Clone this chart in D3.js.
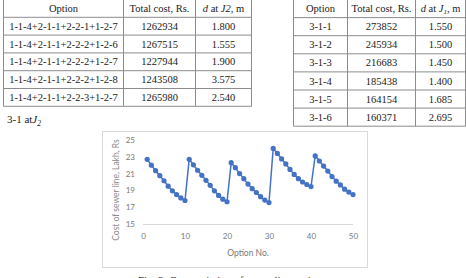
<!DOCTYPE html>
<html><head><meta charset="utf-8">
<script src="https://cdn.jsdelivr.net/npm/d3@7"></script>
<style>body{margin:0;background:#fff;}svg{display:block;}</style>
</head><body>
<svg id="c" width="466" height="278"></svg>
<script>
// ---- data ----
const leftOptions = ["1-1-4+2-1-1+2-2-1+1-2-7","1-1-4+2-1-1+2-2-2+1-2-6","1-1-4+2-1-1+2-2-2+1-2-7","1-1-4+2-1-1+2-2-2+1-2-8","1-1-4+2-1-1+2-2-3+1-2-7"];
const leftCosts = ["1262934","1267515","1227944","1243508","1265980"];
const leftDepths = ["1.800","1.555","1.900","3.575","2.540"];
const rightOptions = ["3-1-1","3-1-2","3-1-3","3-1-4","3-1-5","3-1-6"];
const rightCosts = ["273852","245934","216683","185438","164154","160371"];
const rightDepths = ["1.550","1.500","1.450","1.400","1.685","2.695"];
const optionNo = d3.range(1, 51);
const costLakh = [22.7,22.0,21.35,20.75,20.15,19.5,18.95,18.5,18.1,17.8,
                  22.7,22.05,21.4,20.8,20.2,19.6,18.95,18.4,17.95,17.65,
                  22.3,21.7,21.0,20.4,19.75,19.2,18.75,18.25,17.85,17.55,
                  24.0,23.4,22.75,22.15,21.5,20.9,20.4,20.0,19.7,19.45,
                  23.1,22.5,21.9,21.3,20.65,20.1,19.65,19.15,18.8,18.5];
const xTicks = [0,10,20,30,40,50];
const yTicks = [15,17,19,21,23,25];

const svg = d3.select("#c");
const serif = "'Liberation Serif','Times New Roman',serif";

function drawTable(x0, cols, top, rowH, header, rows) {
  const g = svg.append("g");
  const nRows = rows.length + 1;
  const x1 = cols[cols.length-1];
  for (let i = 0; i <= nRows; i++) {
    g.append("line").attr("x1", cols[0]).attr("x2", x1)
      .attr("y1", top + i*rowH).attr("y2", top + i*rowH)
      .attr("stroke", "#8c8c8c").attr("stroke-width", 1);
  }
  cols.forEach(c => g.append("line").attr("x1", c).attr("x2", c)
      .attr("y1", top).attr("y2", top + nRows*rowH)
      .attr("stroke", "#8c8c8c").attr("stroke-width", 1));
  const all = [header].concat(rows);
  all.forEach((r, ri) => {
    r.forEach((cell, ci) => {
      const t = g.append("text")
        .attr("x", (cols[ci] + cols[ci+1]) / 2)
        .attr("y", top + ri*rowH + rowH/2 + 3.6)
        .attr("text-anchor", "middle")
        .attr("font-family", serif).attr("font-size", 10.5).attr("fill", "#222");
      if (typeof cell === "string") t.text(cell);
      else cell(t);
    });
  });
}

drawTable(3, [3.5, 123.5, 195.5, 251.5], -0.5, 17.8,
  ["Option", "Total cost, Rs.", t => {
      t.append("tspan").attr("font-style","italic").text("d");
      t.append("tspan").text(" at ");
      t.append("tspan").attr("font-style","italic").text("J2");
      t.append("tspan").text(", m");
  }],
  leftOptions.map((o,i) => [o, leftCosts[i], leftDepths[i]]));

drawTable(293, [293.5, 347.5, 415.5, 465.5], -0.5, 18.1,
  ["Option", "Total cost, Rs.", t => {
      t.append("tspan").attr("font-style","italic").text("d");
      t.append("tspan").text(" at ");
      t.append("tspan").attr("font-style","italic").text("J");
      t.append("tspan").attr("font-style","italic").attr("font-size",7).attr("dy",2).text("1");
      t.append("tspan").attr("dy",-2).text(", m");
  }],
  rightOptions.map((o,i) => [o, rightCosts[i], rightDepths[i]]));

const lab = svg.append("text").attr("x", 7).attr("y", 123)
  .attr("font-family", serif).attr("font-size", 11).attr("fill", "#222");
lab.append("tspan").text("3-1 at");
lab.append("tspan").attr("font-style","italic").text("J");
lab.append("tspan").attr("font-style","italic").attr("font-size",7.5).attr("dy",2.5).text("2");

svg.append("rect").attr("x", 102.5).attr("y", 131.5).attr("width", 265).attr("height", 136)
  .attr("fill", "#fff").attr("stroke", "#d9d9d9").attr("stroke-width", 1);

const x = d3.scaleLinear().domain([0, 50]).range([143, 353]);
const y = d3.scaleLinear().domain([15, 25]).range([224, 140]);
const sans = "Lato, 'Open Sans', sans-serif";

svg.append("line").attr("x1", x(0)).attr("x2", x(50)).attr("y1", y(15)+0.5).attr("y2", y(15)+0.5)
  .attr("stroke", "#d9d9d9").attr("stroke-width", 1);

const xAxis = svg.append("g").attr("transform", `translate(0,${y(15)})`)
  .call(d3.axisBottom(x).tickValues(xTicks).tickSize(0).tickPadding(9));
xAxis.select(".domain").remove();
xAxis.selectAll("text").attr("font-family", sans).attr("font-size", 8).attr("fill", "#7a7a7a");

const yAxis = svg.append("g").attr("transform", `translate(${x(0)-4},0)`)
  .call(d3.axisLeft(y).tickValues(yTicks).tickSize(0).tickPadding(4));
yAxis.select(".domain").remove();
yAxis.selectAll("text").attr("font-family", sans).attr("font-size", 8).attr("fill", "#7a7a7a");

svg.append("text").attr("x", 248).attr("y", 256).attr("text-anchor", "middle")
  .attr("font-family", sans).attr("font-size", 8.5).attr("fill", "#7a7a7a").text("Option No.");
svg.append("text").attr("transform", "translate(119,190) rotate(-90)").attr("text-anchor", "middle")
  .attr("font-family", sans).attr("font-size", 8.5).attr("fill", "#8a8a8a").text("Cost of sewer line, Lakh, Rs");

const pts = optionNo.map((o,i) => [o, costLakh[i]]);
svg.append("path").datum(pts)
  .attr("d", d3.line().x(d => x(d[0])).y(d => y(d[1])))
  .attr("fill", "none").attr("stroke", "#4472C4").attr("stroke-width", 1.5);
svg.append("g").selectAll("circle").data(pts).join("circle")
  .attr("cx", d => x(d[0])).attr("cy", d => y(d[1])).attr("r", 2.6).attr("fill", "#4472C4");

// caption, cut off at the bottom edge as in the reference
svg.append("text").attr("x", 232).attr("y", 284).attr("text-anchor", "middle")
  .attr("font-family", serif).attr("font-size", 11).attr("fill", "#222")
  .text("Fig. 3: Cost variation of sewer line options");
</script>
</body></html>
